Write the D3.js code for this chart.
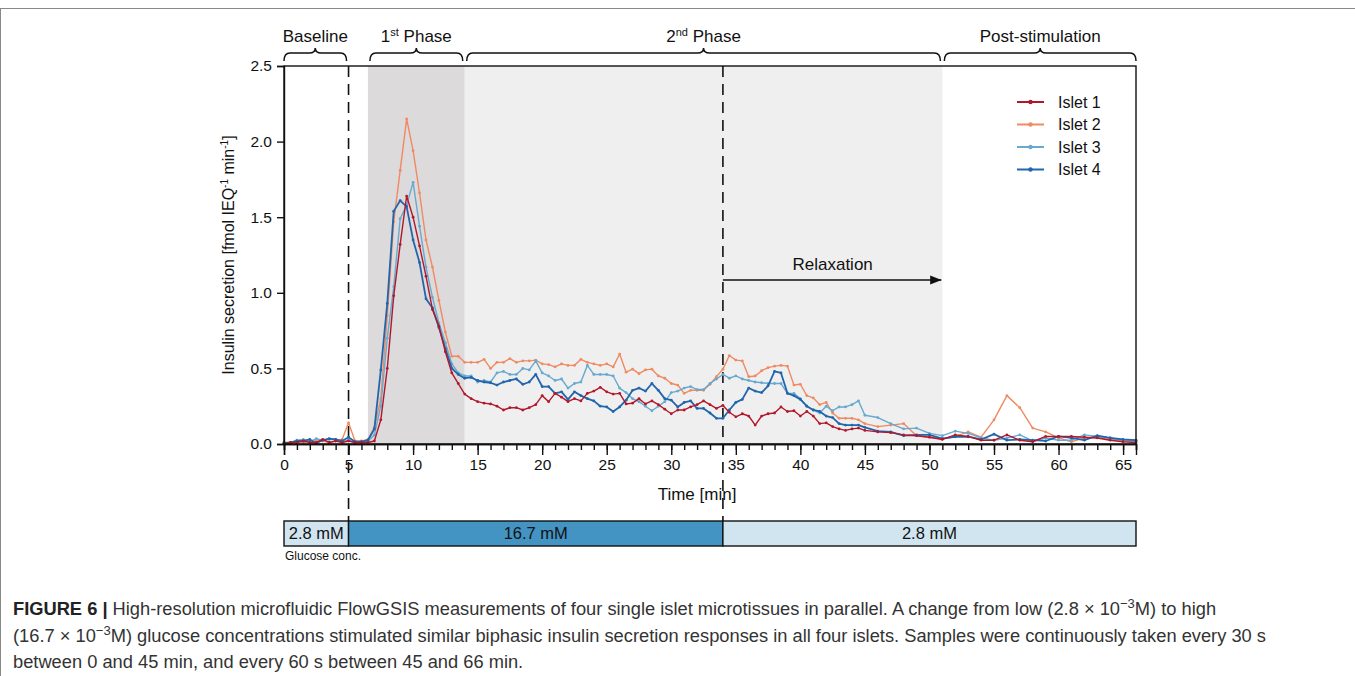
<!DOCTYPE html>
<html>
<head>
<meta charset="utf-8">
<script src="https://cdn.jsdelivr.net/npm/d3@7"></script>
<style>
  body { margin: 0; background: #fff; }
  svg { display: block; font-family: "Liberation Sans", Arial, sans-serif; }
</style>
</head>
<body>
<svg id="chart" width="1355" height="676"></svg>
<script>
// sample times [min]: every 30 s up to 45 min, then every 60 s
var times = [0,0.5,1,1.5,2,2.5,3,3.5,4,4.5,5,5.5,6,6.5,7,7.5,8,8.5,9,9.5,
  10,10.5,11,11.5,12,12.5,13,13.5,14,14.5,15,15.5,16,16.5,17,17.5,18,18.5,19,19.5,
  20,20.5,21,21.5,22,22.5,23,23.5,24,24.5,25,25.5,26,26.5,27,27.5,28,28.5,29,29.5,
  30,30.5,31,31.5,32,32.5,33,33.5,34,34.5,35,35.5,36,36.5,37,37.5,38,38.5,39,39.5,
  40,40.5,41,41.5,42,42.5,43,43.5,44,44.5,45,
  46,47,48,49,50,51,52,53,54,55,56,57,58,59,60,61,62,63,64,65,66];

var islet1 = [0.00,0.01,0.01,0.02,0.01,0.01,0.03,0.01,0.02,0.01,
  0.02,0.01,0.01,0.01,0.02,0.16,0.50,0.98,1.32,1.64,
  1.50,1.31,1.11,0.89,0.78,0.61,0.47,0.40,0.33,0.30,
  0.28,0.27,0.265,0.25,0.225,0.24,0.24,0.225,0.24,0.26,
  0.32,0.28,0.335,0.31,0.28,0.30,0.285,0.335,0.35,0.375,
  0.345,0.33,0.335,0.265,0.27,0.30,0.265,0.285,0.26,0.23,
  0.20,0.225,0.225,0.245,0.26,0.285,0.26,0.235,0.255,0.21,
  0.18,0.20,0.185,0.125,0.185,0.20,0.205,0.245,0.215,0.22,
  0.185,0.215,0.185,0.135,0.14,0.115,0.10,0.09,0.10,0.105,
  0.09,
  0.08,0.075,0.06,0.055,0.045,0.03,0.06,0.05,0.025,0.025,
  0.06,0.025,0.015,0.05,0.05,0.05,0.045,0.04,0.025,0.015,0.01];

var islet2 = [0.01,0.01,0.02,0.01,0.02,0.02,0.02,0.01,0.02,0.03,
  0.14,0.02,0.02,0.03,0.11,0.30,0.85,1.47,1.81,2.15,
  1.94,1.66,1.35,1.17,0.95,0.74,0.58,0.58,0.54,0.54,
  0.54,0.56,0.50,0.54,0.54,0.565,0.54,0.55,0.55,0.555,
  0.53,0.525,0.51,0.53,0.52,0.52,0.56,0.54,0.53,0.52,
  0.53,0.51,0.595,0.475,0.495,0.465,0.49,0.495,0.45,0.435,
  0.40,0.39,0.335,0.355,0.355,0.355,0.395,0.445,0.495,0.585,
  0.555,0.55,0.445,0.45,0.485,0.505,0.515,0.52,0.515,0.39,
  0.395,0.32,0.305,0.26,0.275,0.205,0.17,0.17,0.17,0.16,
  0.135,
  0.115,0.125,0.135,0.055,0.045,0.035,0.05,0.08,0.045,0.16,
  0.32,0.24,0.105,0.08,0.04,0.015,0.04,0.045,0.03,0.025,0.02];

var islet3 = [0.01,0.005,0.025,0.03,0.015,0.035,0.025,0.03,0.03,0.015,
  0.025,0.01,0.015,0.02,0.06,0.25,0.70,1.04,1.49,1.58,
  1.73,1.44,1.17,0.97,0.80,0.67,0.53,0.47,0.45,0.45,
  0.41,0.42,0.41,0.47,0.48,0.46,0.46,0.50,0.49,0.55,
  0.47,0.45,0.42,0.43,0.37,0.40,0.41,0.52,0.46,0.46,
  0.46,0.45,0.37,0.34,0.30,0.28,0.25,0.22,0.25,0.28,
  0.34,0.35,0.37,0.38,0.36,0.36,0.40,0.43,0.46,0.435,
  0.45,0.43,0.42,0.41,0.405,0.40,0.40,0.40,0.335,0.335,
  0.30,0.25,0.225,0.205,0.25,0.22,0.245,0.245,0.26,0.285,
  0.19,
  0.175,0.135,0.10,0.105,0.07,0.055,0.085,0.07,0.04,0.025,
  0.04,0.06,0.02,0.04,0.025,0.025,0.06,0.05,0.04,0.025,0.02];

var islet4 = [0.005,0.01,0.02,0.02,0.03,0.005,0.025,0.035,0.03,0.02,
  0.045,0.015,0.015,0.025,0.10,0.49,0.93,1.54,1.61,1.57,
  1.35,1.20,0.96,0.90,0.77,0.63,0.50,0.46,0.435,0.44,
  0.42,0.41,0.405,0.39,0.41,0.42,0.43,0.395,0.41,0.46,
  0.38,0.38,0.335,0.345,0.295,0.345,0.32,0.30,0.285,0.25,
  0.245,0.215,0.245,0.29,0.355,0.37,0.35,0.40,0.355,0.30,
  0.29,0.245,0.275,0.285,0.235,0.235,0.205,0.17,0.17,0.225,
  0.275,0.295,0.37,0.35,0.34,0.385,0.48,0.47,0.335,0.32,
  0.295,0.25,0.225,0.215,0.185,0.175,0.135,0.125,0.125,0.125,
  0.11,
  0.085,0.08,0.055,0.06,0.06,0.035,0.048,0.048,0.03,0.065,
  0.025,0.03,0.025,0.02,0.05,0.04,0.025,0.055,0.04,0.03,0.025];

var seriesNames = ["Islet 1", "Islet 2", "Islet 3", "Islet 4"];
var seriesColors = ["#b2182b", "#ef8a62", "#67a9cf", "#2166ac"];

var xTicks = [0,5,10,15,20,25,30,35,40,45,50,55,60,65];
var xMinorTicks = d3.range(0, 67, 1);
var yTicks = [0,0.5,1,1.5,2,2.5];

// phases: [start, end] in min
var phaseNames = ["Baseline", "1st Phase", "2nd Phase", "Post-stimulation"];
var phaseStart = [0, 6.5, 14, 51];
var phaseEnd = [5, 14, 51, 66];

// glucose steps
var glucoseLabels = ["2.8 mM", "16.7 mM", "2.8 mM"];
var glucoseStart = [0, 5, 34];
var glucoseEnd = [5, 34, 66];
var glucoseColors = ["#d1e5f0", "#4393c3", "#d1e5f0"];

var switchTimes = [5, 34];

var svg = d3.select("#chart");

var x = d3.scaleLinear().domain([0, 66]).range([284, 1136]);
var y = d3.scaleLinear().domain([0, 2.5]).range([444, 66]);

// figure frame
svg.append("line").attr("x1", 0).attr("x2", 1355).attr("y1", 8.5).attr("y2", 8.5)
  .attr("stroke", "#888").attr("stroke-width", 1);
svg.append("line").attr("x1", 0.5).attr("x2", 0.5).attr("y1", 8).attr("y2", 676)
  .attr("stroke", "#888").attr("stroke-width", 1);

// shading
svg.append("rect").attr("x", x(6.5)).attr("y", y(2.5))
  .attr("width", x(14) - x(6.5)).attr("height", y(0) - y(2.5)).attr("fill", "#dcdadb");
svg.append("rect").attr("x", x(14)).attr("y", y(2.5))
  .attr("width", x(51) - x(14)).attr("height", y(0) - y(2.5)).attr("fill", "#efefef");

// switch lines
svg.selectAll(".switch").data(switchTimes).enter().append("line")
  .attr("class", "switch")
  .attr("x1", function(d) { return x(d); }).attr("x2", function(d) { return x(d); })
  .attr("y1", y(2.5)).attr("y2", 521)
  .attr("stroke", "#111").attr("stroke-width", 1.6)
  .attr("stroke-dasharray", "11,7");

// relaxation arrow
svg.append("defs").append("marker")
  .attr("id", "arrow").attr("viewBox", "0 0 10 10").attr("refX", 10).attr("refY", 5)
  .attr("markerWidth", 8).attr("markerHeight", 8).attr("orient", "auto")
  .append("path").attr("d", "M0,1 L10,5 L0,9 z").attr("fill", "#111");
svg.append("line").attr("x1", x(34)).attr("x2", x(51) - 1).attr("y1", 280).attr("y2", 280)
  .attr("stroke", "#111").attr("stroke-width", 1.4).attr("marker-end", "url(#arrow)");
svg.append("text").attr("x", (x(34) + x(51)) / 2).attr("y", 270)
  .attr("text-anchor", "middle").attr("font-size", 17).attr("fill", "#111").text("Relaxation");

// lines
var line = d3.line()
  .x(function(d) { return x(d[0]); })
  .y(function(d) { return y(d[1]); });

var allSeries = [islet1, islet2, islet3, islet4];
var order = [1, 2, 3, 0];
order.forEach(function(i) {
  var pts = times.map(function(t, j) { return [t, allSeries[i][j]]; });
  var g = svg.append("g");
  g.append("path").datum(pts).attr("d", line)
    .attr("fill", "none").attr("stroke", seriesColors[i])
    .attr("stroke-width", i == 3 ? 1.8 : 1.4).attr("stroke-linejoin", "round");
  g.selectAll("circle").data(pts).enter().append("circle")
    .attr("cx", function(d) { return x(d[0]); })
    .attr("cy", function(d) { return y(d[1]); })
    .attr("r", 1.4).attr("fill", seriesColors[i]);
});

// box
svg.append("rect").attr("x", x(0)).attr("y", y(2.5))
  .attr("width", x(66) - x(0)).attr("height", y(0) - y(2.5))
  .attr("fill", "none").attr("stroke", "#111").attr("stroke-width", 1.4);

// axes
var xMinor = svg.append("g").attr("transform", "translate(0," + y(0) + ")")
  .call(d3.axisBottom(x).tickValues(xMinorTicks).tickSize(6).tickFormat(""));
var xAxis = svg.append("g").attr("transform", "translate(0," + y(0) + ")")
  .call(d3.axisBottom(x).tickValues(xTicks).tickSize(11).tickPadding(4));
var yAxis = svg.append("g").attr("transform", "translate(" + x(0) + ",0)")
  .call(d3.axisLeft(y).tickValues(yTicks).tickSize(7).tickPadding(5).tickFormat(d3.format(".1f")));
[xMinor, xAxis, yAxis].forEach(function(a) {
  a.select(".domain").attr("stroke", "#111").attr("stroke-width", 1.4);
  a.selectAll(".tick line").attr("stroke", "#111").attr("stroke-width", 1.4);
  a.selectAll("text").attr("font-size", 15.5).attr("fill", "#111")
    .attr("font-family", "Liberation Sans, Arial, sans-serif");
});

svg.append("text").attr("x", 697).attr("y", 500).attr("text-anchor", "middle")
  .attr("font-size", 17).attr("fill", "#111").text("Time [min]");

var yl = svg.append("text").attr("transform", "translate(234,255) rotate(-90)")
  .attr("text-anchor", "middle").attr("font-size", 16).attr("fill", "#111");
yl.append("tspan").text("Insulin secretion [fmol IEQ");
yl.append("tspan").attr("font-size", 10).attr("dy", -6).text("-1");
yl.append("tspan").attr("dy", 6).text(" min");
yl.append("tspan").attr("font-size", 10).attr("dy", -6).text("-1");
yl.append("tspan").attr("dy", 6).text("]");

// phase braces
function brace(x1, x2, yb) {
  var m = (x1 + x2) / 2, r = 6;
  return "M" + x1 + "," + (yb + 8) + " Q" + x1 + "," + yb + " " + (x1 + r) + "," + yb +
    " L" + (m - r) + "," + yb + " Q" + m + "," + yb + " " + m + "," + (yb - 5) +
    " Q" + m + "," + yb + " " + (m + r) + "," + yb +
    " L" + (x2 - r) + "," + yb + " Q" + x2 + "," + yb + " " + x2 + "," + (yb + 8);
}
phaseNames.forEach(function(name, i) {
  var x1 = x(phaseStart[i]) + (i > 0 ? 2 : 0), x2 = x(phaseEnd[i]) - (i < 3 ? 2 : 0);
  svg.append("path").attr("d", brace(x1, x2, 53))
    .attr("fill", "none").attr("stroke", "#111").attr("stroke-width", 1.5);
  var t = svg.append("text").attr("x", (x1 + x2) / 2).attr("y", 42)
    .attr("text-anchor", "middle").attr("font-size", 17).attr("fill", "#111");
  var sup = name.match(/^(\d)(st|nd) (.*)$/);
  if (sup) {
    t.append("tspan").text(sup[1]);
    t.append("tspan").attr("font-size", 11).attr("dy", -6).text(sup[2]);
    t.append("tspan").attr("dy", 6).text(" " + sup[3]);
  } else {
    t.text(name);
  }
});

// legend
var lg = svg.append("g").attr("transform", "translate(1017,102)");
seriesNames.forEach(function(name, i) {
  var row = lg.append("g").attr("transform", "translate(0," + (i * 22.5) + ")");
  row.append("line").attr("x1", 0).attr("x2", 27).attr("stroke", seriesColors[i]).attr("stroke-width", 2);
  row.append("circle").attr("cx", 13.5).attr("r", 2.2).attr("fill", seriesColors[i]);
  row.append("text").attr("x", 41).attr("y", 5.5).attr("font-size", 16).attr("fill", "#111").text(name);
});

// glucose bar
var gb = svg.append("g");
glucoseLabels.forEach(function(lab, i) {
  gb.append("rect").attr("x", x(glucoseStart[i])).attr("y", 521)
    .attr("width", x(glucoseEnd[i]) - x(glucoseStart[i])).attr("height", 25)
    .attr("fill", glucoseColors[i]).attr("stroke", "#111").attr("stroke-width", 1.4);
  gb.append("text").attr("x", (x(glucoseStart[i]) + x(glucoseEnd[i])) / 2).attr("y", 539)
    .attr("text-anchor", "middle").attr("font-size", 16.5).attr("fill", "#111").text(lab);
});
svg.append("text").attr("x", 285).attr("y", 560).attr("font-size", 12).attr("fill", "#111")
  .text("Glucose conc.");

// caption
var cap = svg.append("g").attr("font-size", 18.3).attr("fill", "#333");
var l1 = cap.append("text").attr("x", 13).attr("y", 615);
l1.append("tspan").attr("font-weight", "bold").attr("fill", "#222").text("FIGURE 6 | ");
l1.append("tspan").text("High-resolution microfluidic FlowGSIS measurements of four single islet microtissues in parallel. A change from low (2.8 \u00d7 10");
l1.append("tspan").attr("font-size", 13).attr("dy", -7).text("\u22123");
l1.append("tspan").attr("dy", 7).text("M) to high");
var l2 = cap.append("text").attr("x", 13).attr("y", 642);
l2.append("tspan").text("(16.7 \u00d7 10");
l2.append("tspan").attr("font-size", 13).attr("dy", -7).text("\u22123");
l2.append("tspan").attr("dy", 7).text("M) glucose concentrations stimulated similar biphasic insulin secretion responses in all four islets. Samples were continuously taken every 30 s");
cap.append("text").attr("x", 13).attr("y", 668)
  .text("between 0 and 45 min, and every 60 s between 45 and 66 min.");
</script>
</body>
</html>
